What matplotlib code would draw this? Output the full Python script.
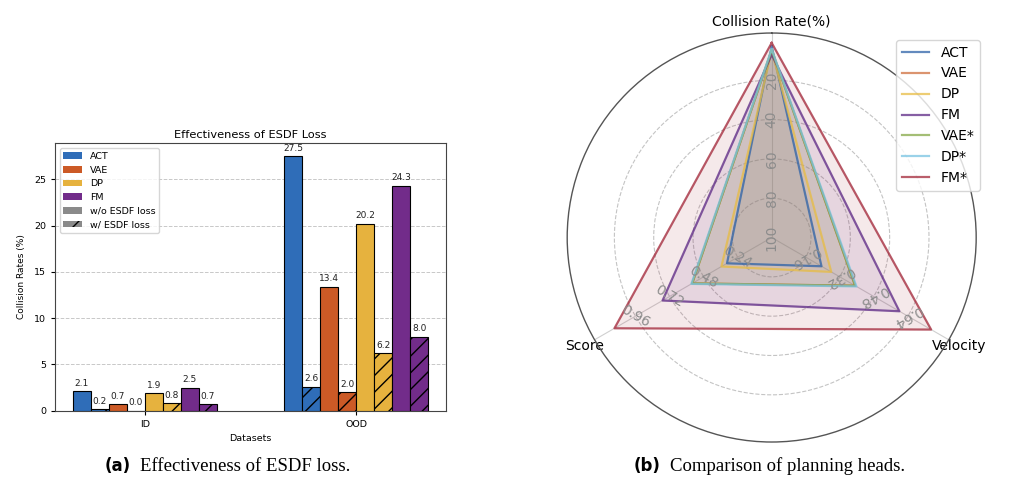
import numpy as np
import matplotlib
matplotlib.use("Agg")
import matplotlib.pyplot as plt
from matplotlib.patches import Patch

# ---------------- data: bar chart ----------------
datasets = ["ID", "OOD"]
bar_methods = ["ACT", "VAE", "DP", "FM"]
wo_esdf = {"ID": [2.1, 0.7, 1.9, 2.5], "OOD": [27.5, 13.4, 20.2, 24.3]}
w_esdf = {"ID": [0.2, 0.0, 0.8, 0.7], "OOD": [2.6, 2.0, 6.2, 8.0]}
bar_colors = ["#2f6db8", "#cc5a26", "#e6b23e", "#722c8a"]

# ---------------- data: radar chart ----------------
radar_methods = ["ACT", "VAE", "DP", "FM", "VAE*", "DP*", "FM*"]
radar_colors = ["#2f63a8", "#d0703f", "#e8bd45", "#5e2a86", "#86a847", "#78c4e2", "#a3283a"]
collision_rate = [2.8, 4.6, 5.0, 7.0, 4.6, 4.2, 1.0]      # %
velocity = [0.234, 0.392, 0.280, 0.600, 0.392, 0.398, 0.749]
score = [0.315, 0.560, 0.354, 0.769, 0.560, 0.566, 1.108]
radar_axes = ["Collision Rate(%)", "Velocity", "Score"]
cr_ticks = [100, 80, 60, 40, 20]
vel_ticks = [0.16, 0.32, 0.48, 0.64]
score_ticks = [0.24, 0.48, 0.72, 0.96]
VEL_MAX = 0.8
SCORE_MAX = 1.2

fig = plt.figure(figsize=(10.24, 4.98), dpi=100)

# ================= bar chart =================
ax1 = fig.add_axes([0.0537, 0.1753, 0.3818, 0.5369])
width = 0.085
for g, ds in enumerate(datasets):
    for m, name in enumerate(bar_methods):
        for v, vals in enumerate([wo_esdf[ds], w_esdf[ds]]):
            x = g + (2 * m + v - 3.5) * width
            h = vals[m]
            ax1.bar(x, h, width, color=bar_colors[m], edgecolor="black",
                    linewidth=0.8, hatch="//" if v == 1 else None, zorder=3)
            ax1.text(x, h + 0.35, f"{h:.1f}", ha="center", va="bottom",
                     fontsize=6.5, color="#222222", zorder=4)

ax1.set_xticks(range(len(datasets)))
ax1.set_xticklabels(datasets, fontsize=6.8)
ax1.tick_params(axis="y", labelsize=6.8, length=3)
ax1.tick_params(axis="x", length=3)
ax1.set_xlabel("Datasets", fontsize=6.8)
ax1.set_ylabel("Collision Rates (%)", fontsize=6.5, labelpad=6)
ax1.set_title("Effectiveness of ESDF Loss", fontsize=8.2, pad=4)
ax1.yaxis.grid(True, linestyle="--", color="#c8c8c8", linewidth=0.7, zorder=0)
ax1.set_axisbelow(True)
for s in ax1.spines.values():
    s.set_color("#444444")
    s.set_linewidth(0.8)

handles = [Patch(facecolor=c, label=n) for c, n in zip(bar_colors, bar_methods)]
handles.append(Patch(facecolor="#8a8a8a", label="w/o ESDF loss"))
handles.append(Patch(facecolor="#8a8a8a", hatch="//", edgecolor="black",
                     linewidth=0, label="w/ ESDF loss"))
ax1.legend(handles=handles, loc="upper left", fontsize=6.8, framealpha=0.8)

# ================= radar chart =================
ax2 = fig.add_axes([0.5539, 0.1124, 0.3994, 0.8213], projection="polar")
ax2.set_theta_offset(np.pi / 2)
ax2.set_theta_direction(-1)
angles = np.array([0.0, 2 * np.pi / 3, 4 * np.pi / 3])
ax2.set_ylim(0, 1.04)

for i, name in enumerate(radar_methods):
    r = np.array([1 - collision_rate[i] / 100.0,
                  velocity[i] / VEL_MAX,
                  score[i] / SCORE_MAX])
    th = np.append(angles, angles[0])
    rr = np.append(r, r[0])
    ax2.plot(th, rr, color=radar_colors[i], linewidth=1.6, alpha=0.75,
             label=name, zorder=3)
    ax2.fill(th, rr, color=radar_colors[i], alpha=0.1, zorder=2)

ax2.set_thetagrids(np.degrees(angles), radar_axes, fontsize=10)
ax2.tick_params(axis="x", pad=-2)
ax2.set_rgrids([0.2, 0.4, 0.6, 0.8], labels=[""] * 4)
ax2.yaxis.grid(True, linestyle="--", color="#c4c4c4", linewidth=0.8)
ax2.xaxis.grid(True, linestyle="-", color="#d0d0d0", linewidth=0.8)
ax2.spines["polar"].set_color("#555555")
ax2.spines["polar"].set_linewidth(1.0)

# radial value labels along each axis
for t in cr_ticks:
    ax2.text(angles[0], 1 - t / 100.0, str(t), rotation=90, ha="center",
             va="center", fontsize=10, color="#8c8c8c", zorder=5)
for t in vel_ticks:
    ax2.text(angles[1], t / VEL_MAX, f"{t:.2f}", rotation=210, ha="center",
             va="center", fontsize=10, color="#8c8c8c", zorder=5)
for t in score_ticks:
    ax2.text(angles[2], t / SCORE_MAX, f"{t:.2f}", rotation=330, ha="center",
             va="center", fontsize=10, color="#8c8c8c", zorder=5)

ax2.legend(loc="upper right", bbox_to_anchor=(1.009, 0.983), borderaxespad=0,
           fontsize=10)

# ================= captions =================
cap_y = 0.064
fig.text(0.1025, cap_y, "(a)", fontsize=12, fontweight="bold",
         family="DejaVu Sans", ha="left", va="center")
fig.text(0.1367, cap_y, "Effectiveness of ESDF loss.", fontsize=13.5,
         family="Liberation Serif", ha="left", va="center")
fig.text(0.619, cap_y, "(b)", fontsize=12, fontweight="bold",
         family="DejaVu Sans", ha="left", va="center")
fig.text(0.654, cap_y, "Comparison of planning heads.", fontsize=13.5,
         family="Liberation Serif", ha="left", va="center")

fig.savefig("out.png", dpi=100)
